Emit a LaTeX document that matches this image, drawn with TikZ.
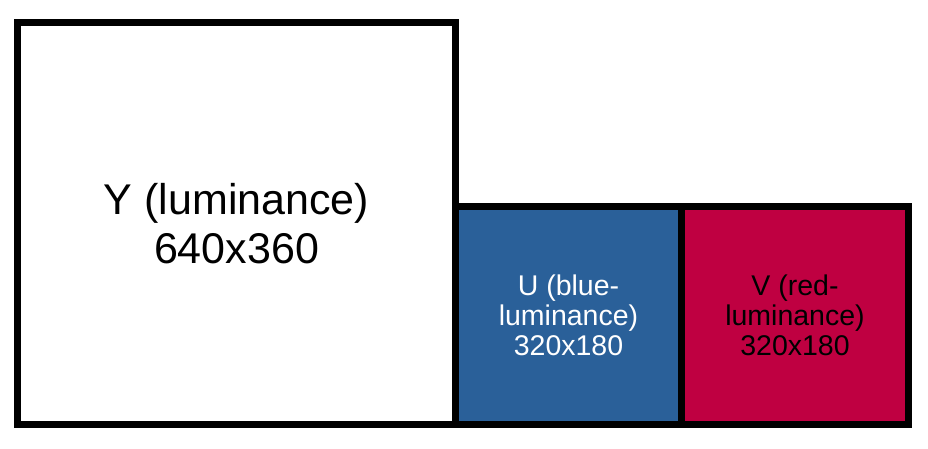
\documentclass[tikz,border=0pt]{standalone}
\usepackage{fontspec}
\setmainfont{Liberation Sans}
\definecolor{ublue}{HTML}{2A6099}
\definecolor{vred}{HTML}{BF0041}
\tikzset{
    plane/.style={draw=black, line width=7pt, rectangle, inner sep=0pt, align=center},
    bigtext/.style={font=\fontsize{43}{49}\selectfont},
    smalltext/.style={font=\fontsize{28.5}{30}\selectfont}
}
\begin{document}
\begin{tikzpicture}[x=1pt, y=1pt]
    \useasboundingbox (0,0) rectangle (928,448);

    % Y 平面
    \node[plane, bigtext, fill=white, minimum width=438pt, minimum height=402pt] (ybox) at (236.5,224.5)
        {Y (luminance)\\640x360};

    % U 平面
    \node[plane, smalltext, fill=ublue, text=white, minimum width=226pt, minimum height=218pt] (ubox) at (568.5,132.5)
        {U (blue-\\luminance)\\320x180};

    % V 平面
    \node[plane, smalltext, fill=vred, text=black, minimum width=227pt, minimum height=218pt] (vbox) at (795,132.5)
        {V (red-\\luminance)\\320x180};
\end{tikzpicture}
\end{document}
